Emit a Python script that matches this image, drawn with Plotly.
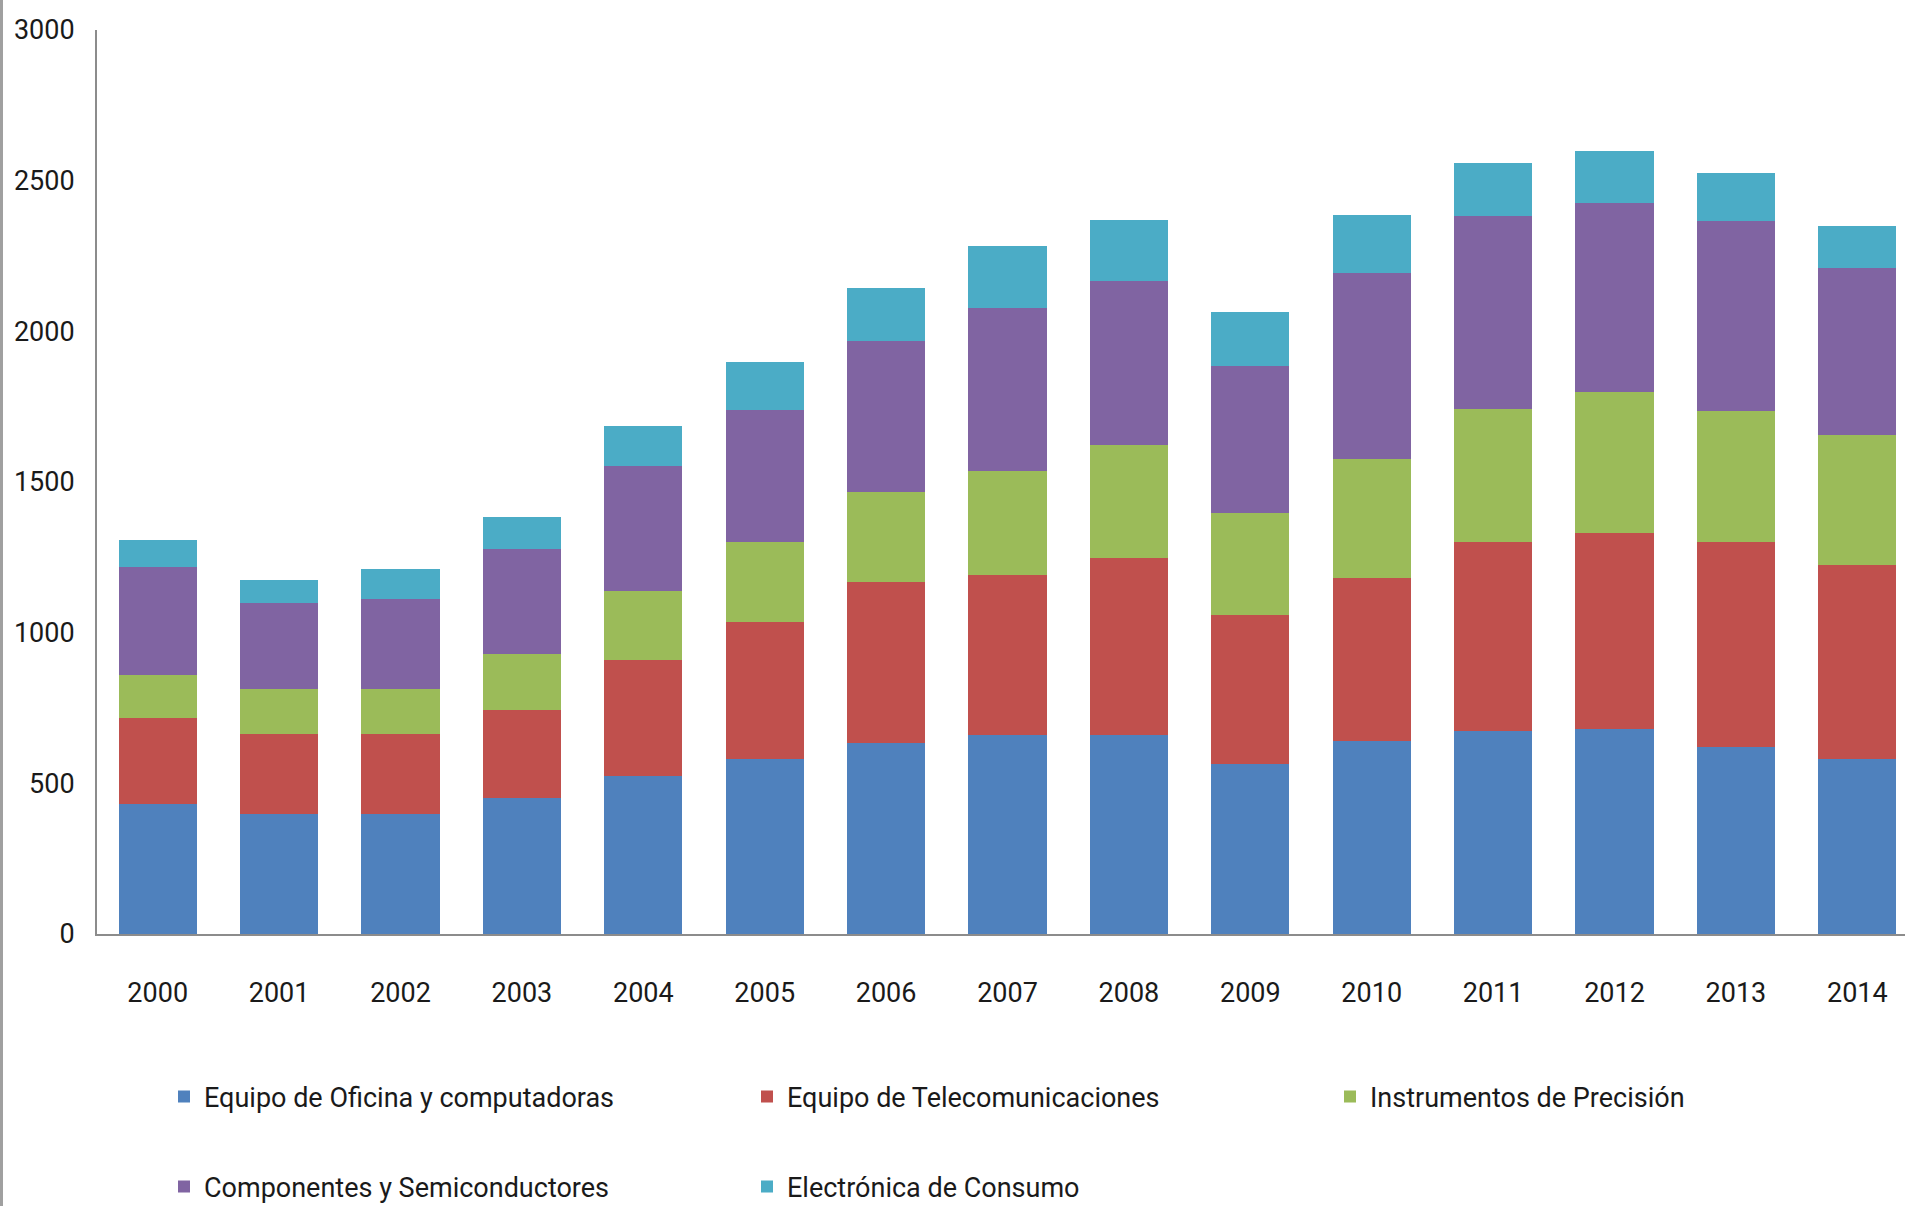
import plotly.graph_objects as go

years = [2000, 2001, 2002, 2003, 2004, 2005, 2006, 2007, 2008, 2009, 2010, 2011, 2012, 2013, 2014]

oficina = [433, 398, 398, 453, 523, 581, 633, 661, 661, 565, 641, 673, 681, 621, 581]
telecom = [283, 267, 267, 289, 385, 454, 535, 531, 586, 495, 542, 629, 650, 681, 645]
precision = [142, 147, 147, 186, 230, 265, 300, 345, 377, 336, 394, 440, 467, 432, 431]
componentes = [359, 287, 301, 351, 415, 440, 500, 542, 544, 490, 616, 641, 629, 633, 553]
consumo = [89, 75, 97, 105, 132, 157, 175, 203, 201, 177, 194, 177, 170, 157, 141]

names = ["Equipo de Oficina y computadoras", "Equipo de Telecomunicaciones",
         "Instrumentos de Precisión", "Componentes y Semiconductores",
         "Electrónica de Consumo"]
colors = ["#4F81BD", "#C0504D", "#9BBB59", "#8064A2", "#4BACC6"]
series = [oficina, telecom, precision, componentes, consumo]
legend_ids = ["legend", "legend", "legend", "legend2", "legend2"]

FONT = "Roboto, Liberation Sans, sans-serif"

fig = go.Figure()
for name, col, vals, lg in zip(names, colors, series, legend_ids):
    fig.add_trace(go.Bar(x=years, y=vals, name=name, marker=dict(color=col, line=dict(width=0)),
                         legend=lg))

W, H = 1905, 1206
ml, mr, mt, mb = 97, 0, 30, 272
ph = H - mt - mb
pw = W - ml - mr
base = mt + ph

leg_common = dict(orientation="h", xanchor="left", yanchor="middle",
                  font=dict(family=FONT, size=27, color="#1a1a1a"),
                  entrywidth=538, entrywidthmode="pixels", itemwidth=30,
                  bgcolor="rgba(0,0,0,0)", traceorder="normal")

fig.update_layout(
    width=W, height=H,
    margin=dict(l=ml, r=mr, t=mt, b=mb, autoexpand=False),
    plot_bgcolor="white", paper_bgcolor="white",
    barmode="stack", bargap=0.357,
    font=dict(family=FONT, size=27, color="#1a1a1a"),
    xaxis=dict(range=[1999.5, 1999.5 + pw / 121.4], tickmode="array", tickvals=years,
               ticktext=[str(y) for y in years], showgrid=False, zeroline=False,
               showline=True, linecolor="#8c8c8c", linewidth=2, ticks="",
               ticklabelstandoff=34, tickfont=dict(family=FONT, size=27, color="#1a1a1a")),
    yaxis=dict(range=[0, 3000], tickvals=[0, 500, 1000, 1500, 2000, 2500, 3000],
               showgrid=False, zeroline=False, showline=True, linecolor="#8c8c8c",
               linewidth=2, ticks="", ticklabelstandoff=15,
               tickfont=dict(family=FONT, size=27, color="#1a1a1a")),
    legend=dict(x=(164 - ml) / pw, y=-(1097 - base) / ph, **leg_common),
    legend2=dict(x=(164 - ml) / pw, y=-(1187 - base) / ph, **leg_common),
    shapes=[dict(type="line", xref="paper", yref="paper", x0=-(ml - 1.5) / pw, x1=-(ml - 1.5) / pw,
                 y0=-(mb) / ph, y1=1 + mt / ph, line=dict(color="#a0a0a0", width=3))],
)

fig.write_html("out.html", config={"displayModeBar": False},
               post_script="document.body.style.margin='0';document.body.style.padding='0';")
